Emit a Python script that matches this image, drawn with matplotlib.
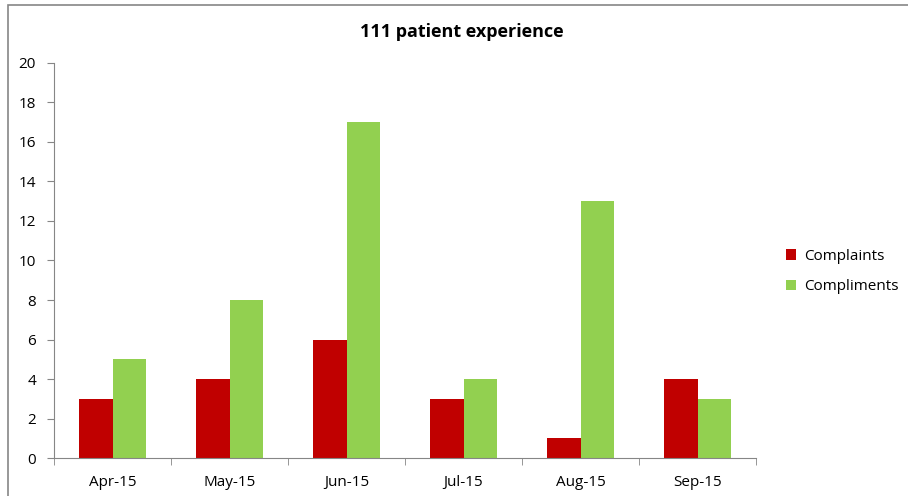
import numpy as np
import matplotlib.pyplot as plt
from matplotlib.patches import Rectangle

# Data
months = ['Apr-15', 'May-15', 'Jun-15', 'Jul-15', 'Aug-15', 'Sep-15']
complaints = [3, 4, 6, 3, 1, 4]
compliments = [5, 8, 17, 4, 13, 3]

plt.rcParams['font.family'] = ['Open Sans', 'DejaVu Sans']

fig = plt.figure(figsize=(9.08, 4.96), dpi=100)
ax = fig.add_axes([0.0595, 0.0766, 0.7731, 0.7964])

x = np.arange(len(months))
w = 0.285
ax.bar(x - w / 2, complaints, w, color='#C00000', label='Complaints')
ax.bar(x + w / 2, compliments, w, color='#92D050', label='Compliments')

ax.set_xlim(-0.5, len(months) - 0.5)
ax.set_ylim(0, 20)
ax.set_yticks(range(0, 21, 2))
ax.set_xticks(x)
ax.set_xticklabels(months)
ax.set_xticks(np.arange(-0.5, len(months)), minor=True)

grey = '#868686'
for s in ['top', 'right']:
    ax.spines[s].set_visible(False)
for s in ['left', 'bottom']:
    ax.spines[s].set_color(grey)
ax.tick_params(axis='y', colors=grey, labelcolor='black', labelsize=11, length=5, pad=8)
ax.tick_params(axis='x', which='major', length=0, labelsize=11, pad=12)
ax.tick_params(axis='x', which='minor', colors=grey, length=5)

fig.text(0.509, 0.935, '111 patient experience', ha='center', va='center',
         fontsize=13, fontweight='bold')

ax.legend(loc='center left', bbox_to_anchor=(0.857, 0.452), bbox_transform=fig.transFigure,
          frameon=False, fontsize=11, handlelength=0.7, handleheight=0.7,
          handletextpad=0.5, labelspacing=1.0, borderpad=0)

# chart border like the Excel frame
fig.patches.append(Rectangle((8 / 908, -0.05), 1.1, 1.05 - 5 / 496, transform=fig.transFigure,
                             fill=False, edgecolor=grey, linewidth=1.2))

fig.savefig('out.png', dpi=100)
